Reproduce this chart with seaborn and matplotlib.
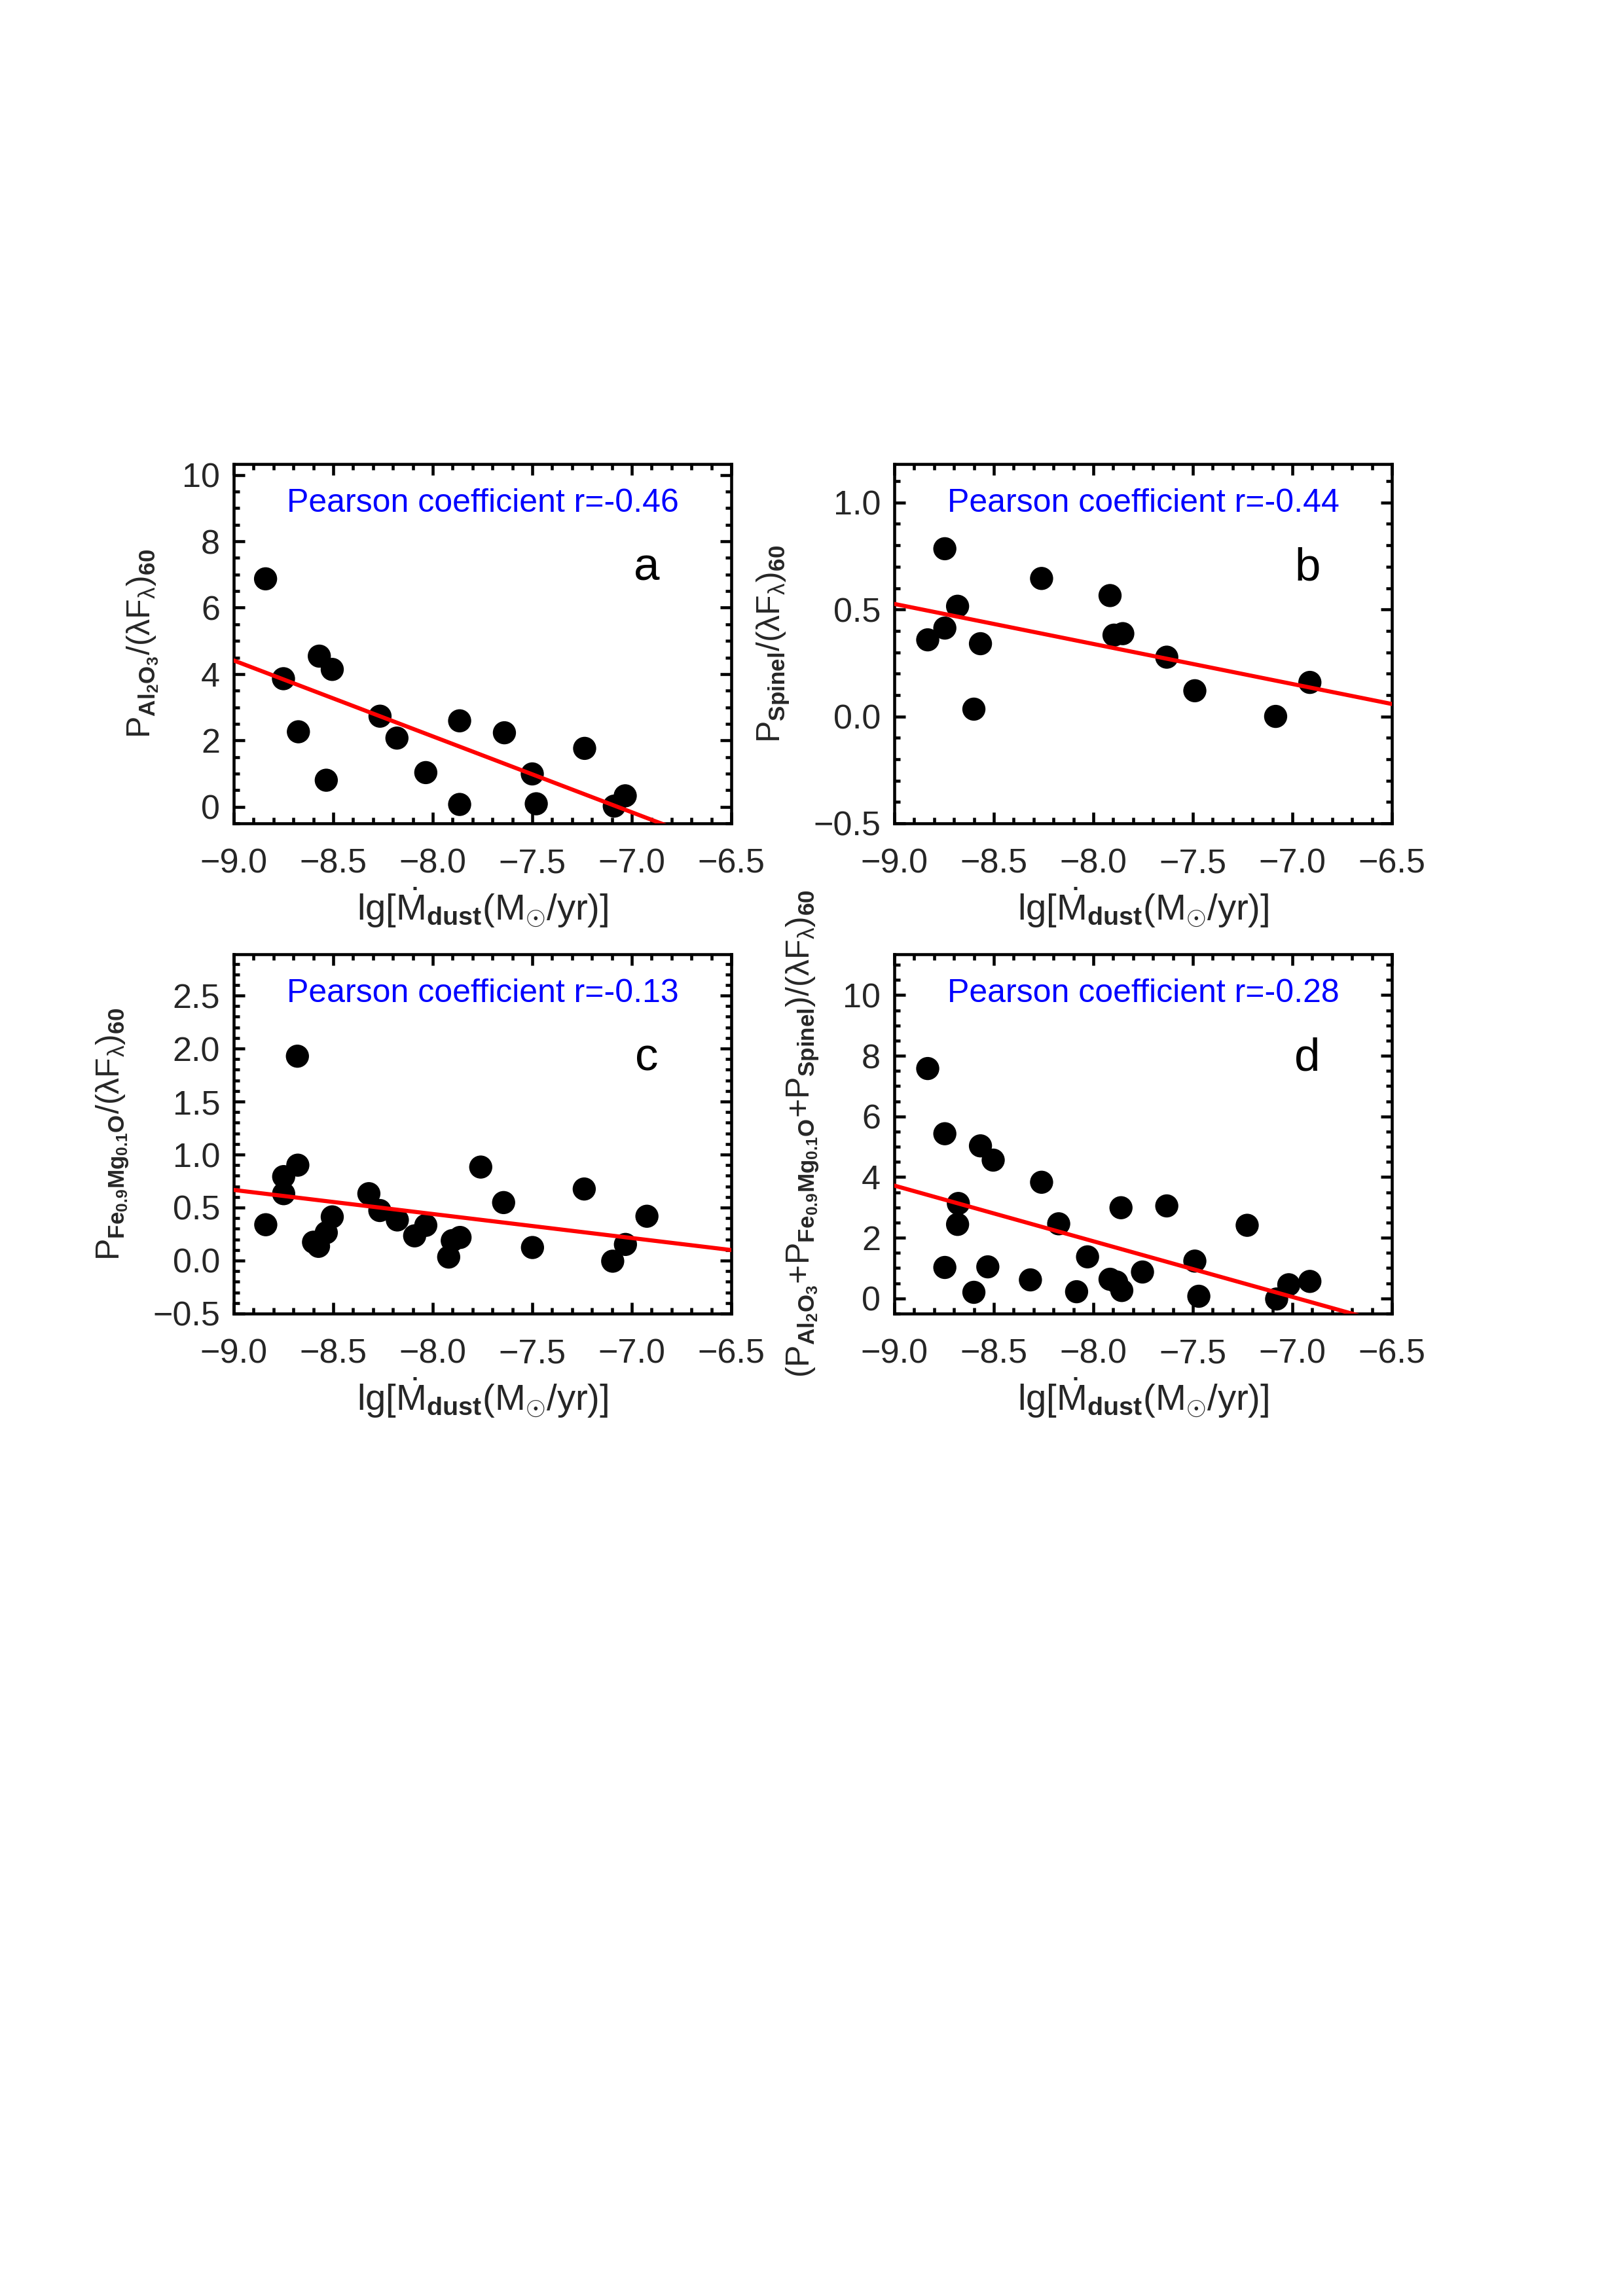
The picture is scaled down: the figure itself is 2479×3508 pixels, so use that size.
import numpy as np
import matplotlib
matplotlib.use("Agg")
import matplotlib.pyplot as plt
from matplotlib.ticker import MultipleLocator, FuncFormatter
import seaborn as sns

sns.set_style("ticks")
plt.rcParams["font.family"] = ["Liberation Sans", "DejaVu Sans"]
plt.rcParams["mathtext.fontset"] = "custom"
plt.rcParams["mathtext.rm"] = "Liberation Sans"
plt.rcParams["mathtext.it"] = "Liberation Sans:italic"
plt.rcParams["mathtext.bf"] = "Liberation Sans:bold"

# ============================================================
# Data
# ============================================================
a_x = [-8.84, -8.75, -8.675, -8.57, -8.505, -8.535, -8.265, -8.18, -8.035,
       -7.865, -7.865, -7.64, -7.50, -7.48, -7.237, -7.088, -7.033]
a_y = [6.87, 3.86, 2.26, 4.54, 4.14, 0.80, 2.73, 2.07, 1.03,
       2.59, 0.07, 2.23, 0.99, 0.09, 1.76, 0.02, 0.33]

b_x = [-8.832, -8.746, -8.746, -8.682, -8.567, -8.600, -8.260, -7.916,
       -7.896, -7.852, -7.631, -7.490, -7.084, -6.912]
b_y = [0.358, 0.784, 0.413, 0.515, 0.340, 0.034, 0.645, 0.565,
       0.380, 0.387, 0.277, 0.120, 0.0, 0.159]

c_x = [-8.839, -8.749, -8.749, -8.680, -8.678, -8.599, -8.574, -8.535,
       -8.505, -8.321, -8.266, -8.178, -8.091, -8.035, -7.920, -7.902,
       -7.863, -7.759, -7.644, -7.499, -7.239, -7.096, -7.032, -6.924]
c_y = [0.338, 0.792, 0.631, 1.928, 0.900, 0.173, 0.134, 0.263,
       0.412, 0.631, 0.472, 0.383, 0.233, 0.332, 0.033, 0.188,
       0.218, 0.882, 0.547, 0.123, 0.675, -0.006, 0.152, 0.418]

d_x = [-8.832, -8.746, -8.746, -8.678, -8.682, -8.600, -8.567, -8.530,
       -8.503, -8.316, -8.260, -8.174, -8.084, -8.029, -7.916, -7.883,
       -7.861, -7.857, -7.753, -7.631, -7.490, -7.470, -7.227, -7.079,
       -7.018, -6.912]
d_y = [7.58, 5.43, 1.02, 3.13, 2.44, 0.20, 5.03, 1.04,
       4.56, 0.61, 3.83, 2.46, 0.22, 1.37, 0.63, 0.54,
       2.99, 0.26, 0.87, 3.05, 1.23, 0.07, 2.41, -0.02,
       0.45, 0.56]

# linear fits, value at x=-9.0 and x=-6.5
fit_x = [-9.0, -6.5]
a_fit = [4.41, -1.31]
b_fit = [0.526, 0.058]
c_fit = [0.666, 0.099]
d_fit = [3.72, -0.87]

pearson = ["-0.46", "-0.44", "-0.13", "-0.28"]
letters = ["a", "b", "c", "d"]

lam = "\u03bb"
tail = r"/(\mathrm{" + lam + r"F}_{\mathrm{" + lam + r"}})_{\mathbf{60}}$"
ylabels = [
    r"$\mathrm{P}_{\mathbf{Al_2O_3}}" + tail,
    r"$\mathrm{P}_{\mathbf{Spinel}}" + tail,
    r"$\mathrm{P}_{\mathbf{Fe_{0.9}Mg_{0.1}O}}" + tail,
    r"$(\mathrm{P}_{\mathbf{Al_2O_3}}{+}\mathrm{P}_{\mathbf{Fe_{0.9}Mg_{0.1}O}}{+}\mathrm{P}_{\mathbf{Spinel}})" + tail,
]
xlabel = r"$\mathrm{lg}[\dot{\mathrm{M}}_{\mathbf{dust}}(\mathrm{M}_{\odot}/\mathrm{yr})]$"

ylims = [(-0.5, 10.33), (-0.5, 1.18), (-0.5, 2.89), (-0.5, 11.35)]
ymajor = [2, 0.5, 0.5, 2]
yminor = [0.5, 0.1, 0.1, 0.5]


def fmt(decimals):
    return FuncFormatter(lambda v, pos: f"{v:.{decimals}f}".replace("-", "\u2212"))


# ============================================================
# Figure
# ============================================================
fig = plt.figure(figsize=(2479 / 300, 3508 / 300), dpi=300)
boxes = [[0.1440, 0.6414, 0.3066, 0.1565],
         [0.5510, 0.6414, 0.3066, 0.1565],
         [0.1440, 0.4279, 0.3066, 0.1565],
         [0.5510, 0.4279, 0.3066, 0.1565]]

panels = [(a_x, a_y, a_fit), (b_x, b_y, b_fit), (c_x, c_y, c_fit), (d_x, d_y, d_fit)]

for i, (px, py, pfit) in enumerate(panels):
    ax = fig.add_axes(boxes[i])
    sns.scatterplot(x=px, y=py, color="black", s=72, edgecolor="none", ax=ax, zorder=2)
    sns.lineplot(x=fit_x, y=pfit, color="red", linewidth=1.5, ax=ax, zorder=3)

    ax.set_xlim(-9.0, -6.5)
    ax.set_ylim(*ylims[i])
    ax.xaxis.set_major_locator(MultipleLocator(0.5))
    ax.xaxis.set_minor_locator(MultipleLocator(0.1))
    ax.yaxis.set_major_locator(MultipleLocator(ymajor[i]))
    ax.yaxis.set_minor_locator(MultipleLocator(yminor[i]))
    ax.xaxis.set_major_formatter(fmt(1))
    ax.yaxis.set_major_formatter(fmt(1 if ymajor[i] < 1 else 0))

    ax.tick_params(which="both", direction="in", top=True, right=True,
                   width=1.1, labelsize=12.5, color="black")
    ax.tick_params(which="major", length=4)
    ax.tick_params(which="minor", length=2.2)
    ax.tick_params(axis="x", pad=9)
    ax.tick_params(axis="y", pad=5)
    for sp in ax.spines.values():
        sp.set_linewidth(1.1)
        sp.set_color("black")

    ax.set_xlabel(xlabel, fontsize=13.5, labelpad=2)
    ax.set_ylabel(ylabels[i], fontsize=12, labelpad=8)

    ax.text(0.5, 0.89, "Pearson coefficient r=" + pearson[i], transform=ax.transAxes,
            ha="center", va="center", color="blue", fontsize=12)
    ax.text(0.83, 0.71, letters[i], transform=ax.transAxes,
            ha="center", va="center", color="black", fontsize=17)

plt.savefig("out.png", dpi=300)
plt.close()
